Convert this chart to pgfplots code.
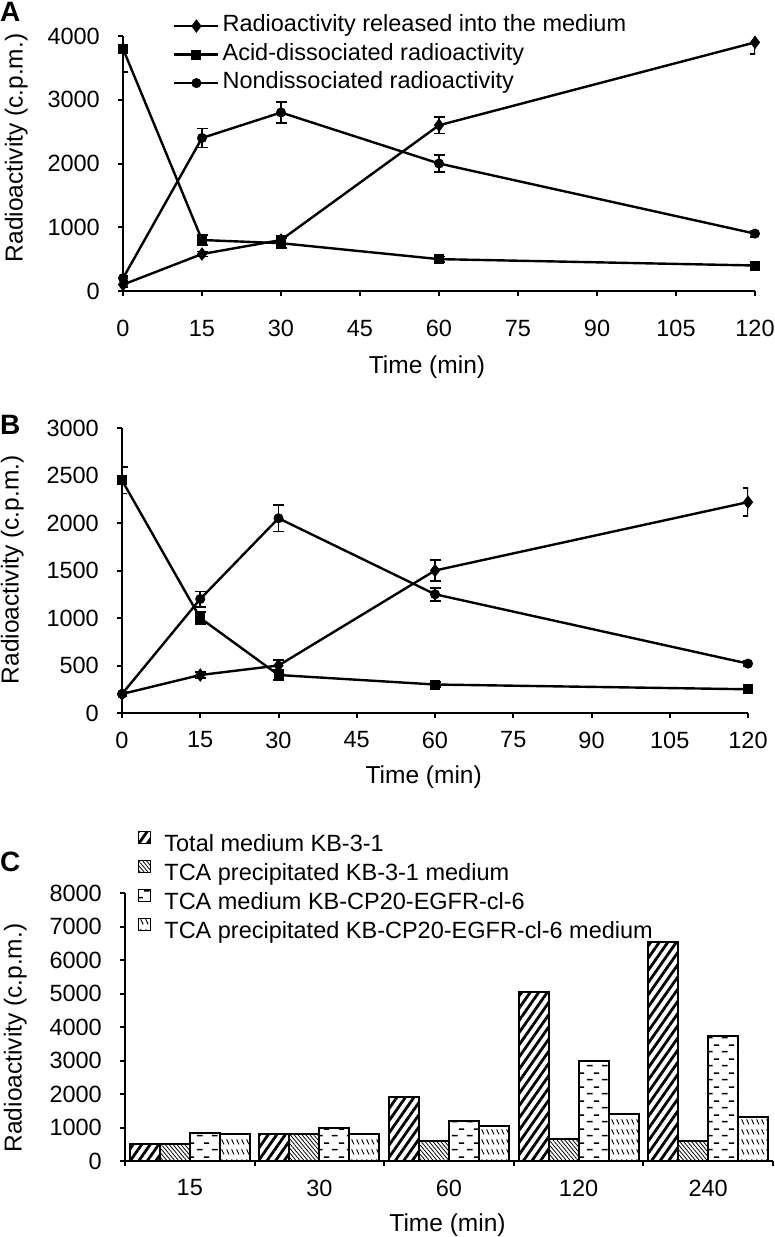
\documentclass[border=0pt]{standalone}
\usepackage{fontspec}
\setmainfont{Liberation Sans}
\usepackage{pgfplots}
\pgfplotsset{compat=1.18}
\usetikzlibrary{patterns,patterns.meta}

\newcommand\tk{\fontsize{23.5}{28}\selectfont}
\newcommand\lb{\fontsize{24.5}{29}\selectfont}

\tikzdeclarepattern{
  name=hdash, type=uncolored,
  bounding box={(0pt,0pt) and (15pt,14pt)},
  tile size={(15pt,14pt)},
  code={
    \draw[line width=1.6pt] (2pt,3.5pt) -- (8pt,3.5pt);
    \draw[line width=1.6pt] (9.5pt,10.5pt) -- (15pt,10.5pt);
  }
}
\tikzdeclarepattern{
  name=ddiag, type=uncolored,
  bounding box={(0pt,0pt) and (4.5pt,10pt)},
  tile size={(4.5pt,10pt)},
  code={
    \draw[line width=1pt] (0.7pt,8.2pt) -- (3.3pt,2.8pt);
  }
}

\pgfplotsset{
  panel/.style={
    scale only axis, anchor=south west,
    axis lines=left, axis line style={-, line width=2.4pt},
    tick align=outside, major tick length=5pt,
    every tick/.style={black, line width=2pt},
    enlargelimits=false,
    tick label style={font=\tk, inner sep=0pt},
    /pgf/number format/assume math mode=true,
    /pgf/number format/1000 sep={},
    label style={font=\lb, inner sep=0pt},
    every axis plot/.append style={line width=2.4pt, black},
    yticklabel style={anchor=east, xshift=-18pt},
  },
  eb/.style={error bars/.cd, y dir=both, y explicit,
    error bar style={line width=1.8pt},
    error mark options={rotate=90, line width=1.8pt, mark size=5.5pt}},
  dia/.style={mark=diamond*, mark size=6pt, mark options={solid, fill=black, line width=1pt}},
  sqr/.style={mark=square*, mark size=4.5pt, mark options={solid, fill=black, line width=1pt}},
  cir/.style={mark=*, mark size=4.5pt, mark options={solid, fill=black, line width=1pt}},
}

\begin{document}
\begin{tikzpicture}
\useasboundingbox (0,0) rectangle (775pt,-1237pt);

% ---------------- Panel A ----------------
\begin{axis}[panel, at={(123pt,-291pt)}, width=632pt, height=255pt,
  xmin=0, xmax=120, ymin=0, ymax=4000,
  xtick={0,15,...,120}, ytick={0,1000,...,4000},
  xticklabel style={anchor=north, yshift=-24pt},
  xlabel={Time (min)}, ylabel={Radioactivity (c.p.m.)},
  xlabel style={at={(axis description cs:0.481,-0.298)}, anchor=center},
  ylabel style={at={(axis description cs:-0.1503,0.561)}, anchor=south},
  legend style={at={(axis description cs:0.0791,1.0808)}, anchor=north west,
    draw=none, fill=none, inner sep=0pt, row sep=7.5pt, column sep=3pt,
    font=\tk, nodes={inner sep=0pt, text height=16pt, text depth=5pt}},
  legend cell align=left,
  legend image code/.code={\draw[mark repeat=2,mark phase=2,#1] plot coordinates {(0pt,0pt) (22pt,0pt) (44pt,0pt)};},
]
\addplot[dia, eb] coordinates {(0,100) +- (0,40) (15,580) +- (0,40) (30,800) +- (0,60) (60,2600) +- (0,130) (120,3900) +- (0,180)};
\addlegendentry{Radioactivity released into the medium}
\addplot[sqr, eb] coordinates {(0,3800) +- (0,370) (15,800) +- (0,80) (30,750) +- (0,80) (60,500) +- (0,40) (120,400) +- (0,30)};
\addlegendentry{Acid-dissociated radioactivity}
\addplot[cir, eb] coordinates {(0,200) +- (0,40) (15,2400) +- (0,150) (30,2800) +- (0,170) (60,2000) +- (0,130) (120,900) +- (0,50)};
\addlegendentry{Nondissociated radioactivity}
\end{axis}

% ---------------- Panel B ----------------
\begin{axis}[panel, at={(122pt,-713pt)}, width=626pt, height=285pt,
  xmin=0, xmax=120, ymin=0, ymax=3000,
  xtick={0,15,...,120}, ytick={0,500,...,3000},
  xticklabel style={anchor=north, yshift=-13.6pt},
  xlabel={Time (min)}, ylabel={Radioactivity (c.p.m.)},
  xlabel style={at={(axis description cs:0.482,-0.2246)}, anchor=center},
  ylabel style={at={(axis description cs:-0.1565,0.502)}, anchor=south},
]
\addplot[dia, eb] coordinates {(0,200) +- (0,20) (15,400) +- (0,30) (30,500) +- (0,60) (60,1500) +- (0,110) (120,2220) +- (0,150)};
\addplot[sqr, eb] coordinates {(0,2450) +- (0,140) (15,1000) +- (0,60) (30,400) +- (0,50) (60,300) +- (0,30) (120,250) +- (0,20)};
\addplot[cir, eb] coordinates {(0,200) +- (0,20) (15,1200) +- (0,80) (30,2050) +- (0,140) (60,1250) +- (0,70) (120,520) +- (0,25)};
\end{axis}

% ---------------- Panel C ----------------
\begin{axis}[panel, at={(125pt,-1161pt)}, width=648pt, height=268pt,
  xmin=-0.5, xmax=4.5, ymin=0, ymax=8000,
  ybar=0pt, bar width=30pt,
  xtick={-0.5,0.5,...,4.5}, xticklabels={},
  extra x ticks={0,1,2,3,4}, extra x tick labels={15,30,60,120,240},
  extra x tick style={tick style={draw=none}, xticklabel style={anchor=north, yshift=-13.6pt}},
  ytick={0,1000,...,8000},
  xlabel={Time (min)}, ylabel={Radioactivity (c.p.m.)},
  xlabel style={at={(axis description cs:0.4977,-0.2388)}, anchor=center},
  ylabel style={at={(axis description cs:-0.1512,0.459)}, anchor=south},
  legend style={at={(axis description cs:0.02006,1.2336)}, anchor=north west,
    draw=none, fill=none, inner sep=0pt, row sep=3.7pt, column sep=13pt,
    font=\tk, nodes={inner sep=0pt, text height=16pt, text depth=5pt}},
  legend cell align=left,
  legend image code/.code={\draw[#1, line width=1.2pt] (0pt,2.4pt) rectangle (12pt,14.4pt);},
]
\addplot[ybar, draw=black, line width=2pt, pattern={Lines[angle=55,distance=7pt,line width=2.8pt]}]
  coordinates {(0,500) (1,800) (2,1900) (3,5050) (4,6550)};
\addlegendentry{Total medium KB-3-1}
\addplot[ybar, draw=black, line width=2pt, pattern={Lines[angle=-50,distance=3pt,line width=0.8pt]}]
  coordinates {(0,500) (1,800) (2,600) (3,650) (4,600)};
\addlegendentry{TCA precipitated KB-3-1 medium}
\addplot[ybar, draw=black, line width=2pt, pattern=hdash]
  coordinates {(0,850) (1,1000) (2,1200) (3,3000) (4,3730)};
\addlegendentry{TCA medium KB-CP20-EGFR-cl-6}
\addplot[ybar, draw=black, line width=2pt, pattern=ddiag]
  coordinates {(0,800) (1,800) (2,1050) (3,1400) (4,1300)};
\addlegendentry{TCA precipitated KB-CP20-EGFR-cl-6 medium}
\end{axis}

\node[anchor=north west, inner sep=0pt, font=\bfseries\fontsize{28}{28}\selectfont] at (0pt,-2pt) {A};
\node[anchor=north west, inner sep=0pt, font=\bfseries\fontsize{28}{28}\selectfont] at (0pt,-415pt) {B};
\node[anchor=north west, inner sep=0pt, font=\bfseries\fontsize{28}{28}\selectfont] at (0pt,-852pt) {C};
\end{tikzpicture}
\end{document}
